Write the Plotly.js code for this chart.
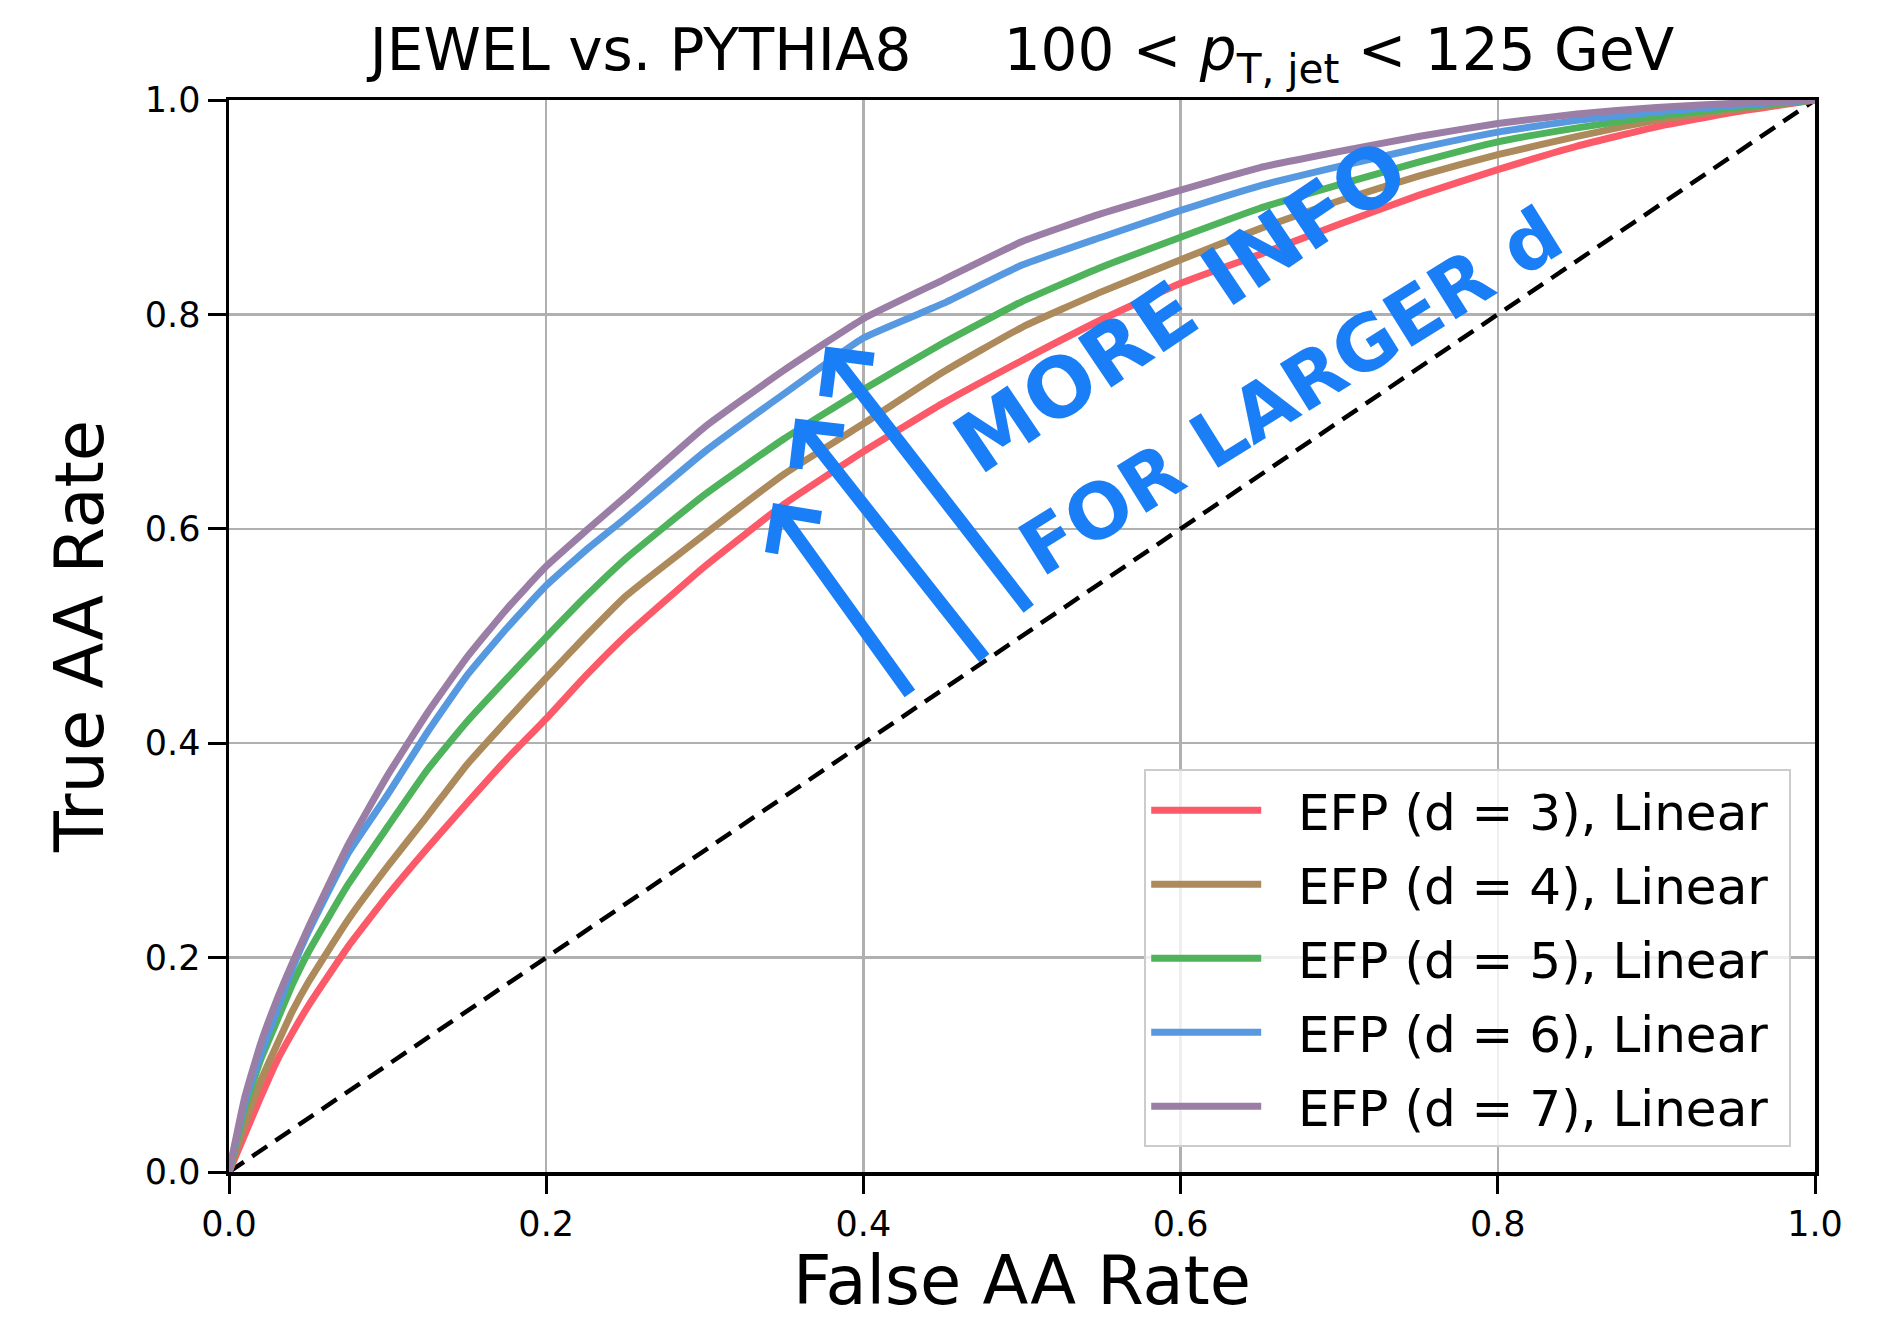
<!DOCTYPE html>
<html>
<head>
<meta charset="utf-8">
<script src="https://cdn.plot.ly/plotly-3.0.1.min.js"></script>
<style>
  html, body { margin: 0; padding: 0; background: #ffffff; }
  #chart { width: 1889px; height: 1320px; }
</style>
</head>
<body>
<div id="chart"></div>
<script>
// False AA rate (x) sample points
const falseRate = [0, 0.01, 0.02, 0.03, 0.04, 0.05, 0.075, 0.1, 0.125, 0.15, 0.175, 0.2, 0.225, 0.25,
                   0.3, 0.35, 0.4, 0.45, 0.5, 0.55, 0.6, 0.65, 0.7, 0.75, 0.8, 0.85, 0.9, 0.95, 1.0];

// True AA rate (y) for each EFP degree
const trueD3 = [0, 0.035, 0.07, 0.103, 0.13, 0.155, 0.21, 0.258, 0.302, 0.344, 0.385, 0.423, 0.463, 0.500,
                0.565, 0.623, 0.672, 0.717, 0.757, 0.795, 0.829, 0.856, 0.884, 0.911, 0.935, 0.957, 0.975, 0.989, 1.0];
const trueD4 = [0, 0.045, 0.085, 0.118, 0.15, 0.177, 0.235, 0.285, 0.332, 0.38, 0.421, 0.461, 0.5, 0.537,
                0.595, 0.651, 0.698, 0.746, 0.788, 0.821, 0.851, 0.880, 0.906, 0.929, 0.949, 0.966, 0.981, 0.991, 1.0];
const trueD5 = [0, 0.06, 0.105, 0.14, 0.175, 0.205, 0.268, 0.322, 0.375, 0.42, 0.46, 0.499, 0.537, 0.572,
                0.632, 0.684, 0.730, 0.773, 0.812, 0.844, 0.872, 0.899, 0.921, 0.942, 0.961, 0.974, 0.985, 0.993, 1.0];
const trueD6 = [0, 0.065, 0.11, 0.15, 0.19, 0.224, 0.297, 0.352, 0.41, 0.463, 0.507, 0.547, 0.58, 0.61,
                0.672, 0.726, 0.778, 0.810, 0.846, 0.872, 0.897, 0.920, 0.938, 0.955, 0.970, 0.981, 0.989, 0.995, 1.0];
const trueD7 = [0, 0.07, 0.12, 0.16, 0.195, 0.228, 0.305, 0.37, 0.428, 0.48, 0.525, 0.565, 0.598, 0.630,
                0.695, 0.748, 0.796, 0.832, 0.868, 0.894, 0.916, 0.937, 0.952, 0.966, 0.978, 0.987, 0.993, 0.997, 1.0];

// Random-guess diagonal
const diagX = [0, 1];
const diagY = [0, 1];

const seriesNames = ['EFP (d = 3), Linear', 'EFP (d = 4), Linear', 'EFP (d = 5), Linear',
                     'EFP (d = 6), Linear', 'EFP (d = 7), Linear'];
const seriesValues = [trueD3, trueD4, trueD5, trueD6, trueD7];
const seriesColors = ['#fc5a69', '#ad8a5b', '#4eb35b', '#5699e1', '#9b7ea6'];

const tickVals = [0, 0.2, 0.4, 0.6, 0.8, 1.0];
const tickText = ['0.0', '0.2', '0.4', '0.6', '0.8', '1.0'];

const noteLine1 = 'MORE INFO';
const noteLine2 = 'FOR LARGER d';

const FONT = 'DejaVu Sans, sans-serif';
const PEN = '#1a7ff6';

const traces = [{
  x: diagX, y: diagY, type: 'scatter', mode: 'lines', showlegend: false, hoverinfo: 'skip',
  line: {color: '#000000', width: 4.5, dash: '18px,10px'}
}];
seriesValues.forEach((vals, i) => {
  traces.push({
    x: falseRate, y: vals, type: 'scatter', mode: 'lines',
    name: '&nbsp;&nbsp;' + seriesNames[i] + '&nbsp;',
    legendgroup: 'g' + i,
    line: {color: seriesColors[i], width: 7, shape: 'spline', smoothing: 0.4}
  });
});

const axisCommon = {
  range: [0, 1], autorange: false, tickmode: 'array', tickvals: tickVals, ticktext: tickText,
  showgrid: true, gridcolor: '#b0b0b0', gridwidth: 2.5, zeroline: false,
  showline: true, linecolor: '#000000', linewidth: 3.5, mirror: true,
  ticks: 'outside', ticklen: 18, tickwidth: 3, tickcolor: '#000000',
  tickfont: {family: FONT, size: 35, color: '#000000'}
};

const arrowBase = {
  xref: 'x', yref: 'y', axref: 'x', ayref: 'y', text: '', showarrow: true,
  arrowhead: 4, arrowsize: 0.9, arrowwidth: 13, arrowcolor: PEN, standoff: 0, startstandoff: 0
};

const layout = {
  width: 1889, height: 1320,
  paper_bgcolor: '#ffffff', plot_bgcolor: '#ffffff',
  margin: {l: 229, r: 74, t: 100, b: 148, pad: 0},
  font: {family: FONT, color: '#000000'},
  title: {
    text: 'JEWEL vs. PYTHIA8&nbsp;&nbsp;&nbsp;&nbsp;&nbsp;100 &lt; <i>p</i><sub>T, jet</sub> &lt; 125 GeV',
    font: {family: FONT, size: 58, color: '#000000'},
    xref: 'paper', x: 0.5, xanchor: 'center',
    yref: 'container', y: 0.962, yanchor: 'middle'
  },
  xaxis: Object.assign({}, axisCommon, {
    title: {text: 'False AA Rate', font: {family: FONT, size: 67, color: '#000000'}, standoff: 32}
  }),
  yaxis: Object.assign({}, axisCommon, {
    title: {text: 'True AA Rate', font: {family: FONT, size: 67, color: '#000000'}, standoff: 20}
  }),
  showlegend: true,
  legend: {
    x: 0.985, xanchor: 'right', y: 0.023, yanchor: 'bottom', traceorder: 'grouped',
    bgcolor: 'rgba(255,255,255,0.8)', bordercolor: '#cccccc', borderwidth: 2,
    font: {family: FONT, size: 50, color: '#000000'},
    itemwidth: 110, tracegroupgap: 6
  },
  annotations: [
    Object.assign({}, arrowBase, {x: 0.343, y: 0.624, ax: 0.430, ay: 0.445}),
    Object.assign({}, arrowBase, {x: 0.357, y: 0.703, ax: 0.477, ay: 0.478}),
    Object.assign({}, arrowBase, {x: 0.376, y: 0.770, ax: 0.505, ay: 0.524}),
    {xref: 'x', yref: 'y', x: 0.600, y: 0.807, text: '<b>' + noteLine1 + '</b>', showarrow: false,
     textangle: -34, xanchor: 'center', yanchor: 'middle',
     font: {family: FONT, size: 82, color: PEN}},
    {xref: 'x', yref: 'y', x: 0.669, y: 0.7285, text: '<b>' + noteLine2 + '</b>', showarrow: false,
     textangle: -32, xanchor: 'center', yanchor: 'middle',
     font: {family: FONT, size: 76, color: PEN}}
  ]
};

Plotly.newPlot('chart', traces, layout, {staticPlot: true, displayModeBar: false});
</script>
</body>
</html>
